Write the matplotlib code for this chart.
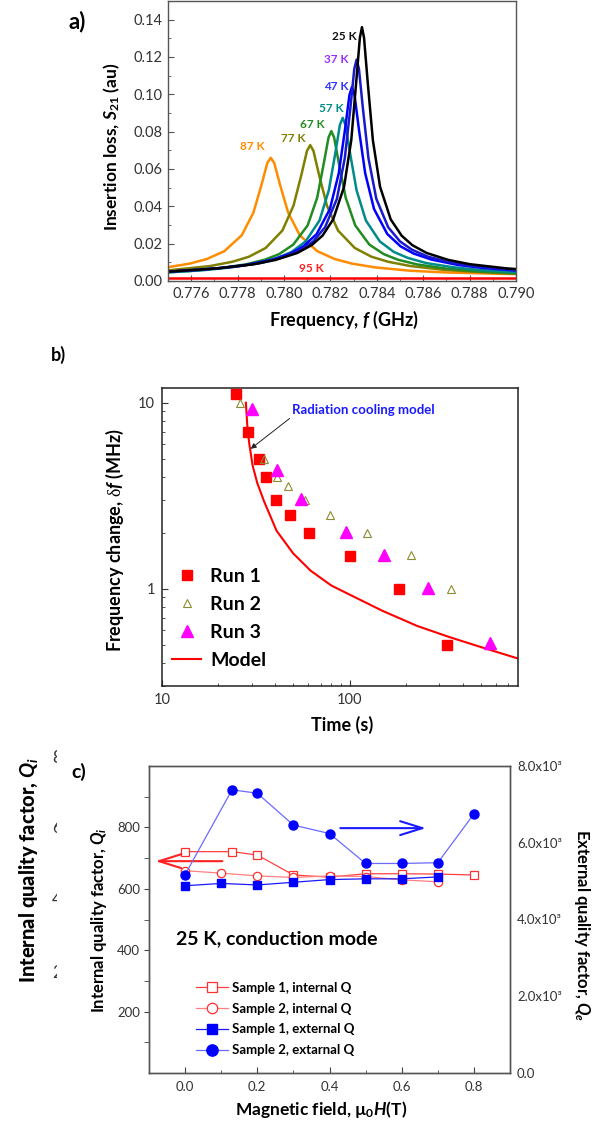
import matplotlib
matplotlib.use('Agg')
import matplotlib.pyplot as plt
from matplotlib.ticker import FixedLocator, NullFormatter, FixedFormatter
from matplotlib.transforms import Bbox, TransformedBbox

plt.rcParams['font.family'] = ['Lato', 'DejaVu Sans']
plt.rcParams['mathtext.fontset'] = 'custom'
plt.rcParams['mathtext.rm'] = 'Lato:bold'
plt.rcParams['mathtext.it'] = 'Lato:bold:italic'
plt.rcParams['mathtext.bf'] = 'Lato:bold'
plt.rcParams['mathtext.sf'] = 'Liberation Serif'

# ---------------- Panel a data: S21 traces ----------------
temps_a = ['25 K', '37 K', '47 K', '57 K', '67 K', '77 K', '87 K', '95 K']

f_25K = [0.775, 0.77716, 0.77871, 0.77964, 0.78057, 0.78119, 0.78166, 0.78212, 0.78259, 0.78290,
         0.78311, 0.78327, 0.78336, 0.78345, 0.78361, 0.78383, 0.78414, 0.78460, 0.78507, 0.78553,
         0.78615, 0.78708, 0.78801, 0.78956, 0.790]
s_25K = [0.0050, 0.0068, 0.0090, 0.0113, 0.0150, 0.0192, 0.0243, 0.0330, 0.0505, 0.0755,
         0.1062, 0.1303, 0.1360, 0.1303, 0.1062, 0.0755, 0.0505, 0.0330, 0.0243, 0.0192,
         0.0150, 0.0113, 0.0090, 0.0068, 0.0064]

f_37K = [0.775, 0.77633, 0.77803, 0.77905, 0.78007, 0.78075, 0.78126, 0.78177, 0.78228, 0.78262,
         0.78286, 0.78303, 0.78313, 0.78323, 0.78340, 0.78364, 0.78398, 0.78449, 0.78500, 0.78551,
         0.78619, 0.78721, 0.78823, 0.790]
s_37K = [0.0050, 0.0059, 0.0079, 0.0098, 0.0131, 0.0168, 0.0212, 0.0288, 0.0440, 0.0658,
         0.0926, 0.1136, 0.1186, 0.1136, 0.0926, 0.0658, 0.0440, 0.0288, 0.0212, 0.0168,
         0.0131, 0.0098, 0.0079, 0.0059]

f_47K = [0.775, 0.77723, 0.77837, 0.77951, 0.78027, 0.78084, 0.78141, 0.78198, 0.78236, 0.78263,
         0.78282, 0.78293, 0.78304, 0.78323, 0.78350, 0.78388, 0.78445, 0.78502, 0.78559, 0.78635,
         0.78749, 0.78863, 0.790]
s_47K = [0.0050, 0.0069, 0.0086, 0.0115, 0.0147, 0.0186, 0.0252, 0.0386, 0.0577, 0.0812,
         0.0996, 0.1040, 0.0996, 0.0812, 0.0577, 0.0386, 0.0252, 0.0186, 0.0147, 0.0115,
         0.0086, 0.0069, 0.0056]

f_57K = [0.775, 0.77653, 0.77773, 0.77893, 0.77973, 0.78033, 0.78093, 0.78153, 0.78193, 0.78221,
         0.78241, 0.78253, 0.78265, 0.78285, 0.78313, 0.78353, 0.78413, 0.78473, 0.78533, 0.78613,
         0.78733, 0.78853, 0.790]
s_57K = [0.0046, 0.0058, 0.0073, 0.0096, 0.0124, 0.0156, 0.0212, 0.0324, 0.0485, 0.0683,
         0.0837, 0.0874, 0.0837, 0.0683, 0.0485, 0.0324, 0.0212, 0.0156, 0.0124, 0.0096,
         0.0073, 0.0058, 0.0047]

f_67K = [0.775, 0.77589, 0.77712, 0.77835, 0.77917, 0.77979, 0.78040, 0.78102, 0.78143, 0.78171,
         0.78192, 0.78204, 0.78216, 0.78237, 0.78266, 0.78307, 0.78368, 0.78430, 0.78491, 0.78573,
         0.78696, 0.78819, 0.790]
s_67K = [0.0047, 0.0053, 0.0067, 0.0089, 0.0114, 0.0144, 0.0195, 0.0298, 0.0446, 0.0627,
         0.0769, 0.0803, 0.0769, 0.0627, 0.0446, 0.0298, 0.0195, 0.0144, 0.0114, 0.0089,
         0.0067, 0.0053, 0.0041]

f_77K = [0.775, 0.77681, 0.77777, 0.77849, 0.77921, 0.77993, 0.78041, 0.78075, 0.78099, 0.78113,
         0.78127, 0.78151, 0.78185, 0.78233, 0.78305, 0.78377, 0.78449, 0.78545, 0.78689, 0.78833,
         0.790]
s_77K = [0.0057, 0.0080, 0.0103, 0.0130, 0.0177, 0.0270, 0.0404, 0.0569, 0.0697, 0.0728,
         0.0697, 0.0569, 0.0404, 0.0270, 0.0177, 0.0130, 0.0103, 0.0080, 0.0060, 0.0048,
         0.0039]

f_87K = [0.775, 0.77593, 0.77668, 0.77743, 0.77818, 0.77868, 0.77903, 0.77928, 0.77943, 0.77958,
         0.77983, 0.78018, 0.78068, 0.78143, 0.78218, 0.78293, 0.78393, 0.78543, 0.78693, 0.78943,
         0.790]
s_87K = [0.0074, 0.0093, 0.0118, 0.0160, 0.0245, 0.0366, 0.0515, 0.0632, 0.0660, 0.0632,
         0.0515, 0.0366, 0.0245, 0.0160, 0.0118, 0.0093, 0.0073, 0.0055, 0.0046, 0.0038,
         0.0037]

f_95K = [0.775, 0.790]
s_95K = [0.0015, 0.0015]

# label anchor positions (frequency, S21) for temperature labels
label_f = [0.7826, 0.78227, 0.78227, 0.78204, 0.78124, 0.78042, 0.77863, 0.7812]
label_s = [0.131, 0.1186, 0.104, 0.0924, 0.0838, 0.0763, 0.0722, 0.0066]

# ---------------- Panel b data ----------------
run1_t = [24.7, 28.8, 32.8, 35.7, 40.6, 47.9, 60.6, 100, 184, 331]
run1_df = [11.2, 7.0, 5.0, 4.0, 3.0, 2.5, 2.0, 1.5, 1.0, 0.5]
run2_t = [25.9, 34.8, 40.8, 46.8, 57.8, 78.6, 124, 212, 346, 555]
run2_df = [10.0, 5.0, 4.0, 3.55, 3.0, 2.5, 2.0, 1.52, 1.0, 0.5]
run3_t = [30.0, 40.8, 55.2, 96, 153, 262, 562]
run3_df = [9.2, 4.33, 3.03, 2.02, 1.52, 1.01, 0.51]
model_t = [28.0, 28.5, 29.2, 30.4, 32.2, 35.0, 40.8, 50, 62, 80, 100, 150, 230, 340, 520, 800]
model_df = [10.0, 7.5, 6.0, 4.6, 3.7, 2.95, 2.05, 1.55, 1.25, 1.04, 0.93, 0.76, 0.63, 0.55, 0.48, 0.42]

# ---------------- Panel c data ----------------
field_s1i = [0.0, 0.13, 0.2, 0.3, 0.4, 0.5, 0.6, 0.7, 0.8]
qi_s1 = [721, 721, 710, 645, 638, 649, 649, 648, 645]
field_s2i = [0.0, 0.1, 0.2, 0.3, 0.4, 0.5, 0.6, 0.7]
qi_s2 = [659, 651, 642, 637, 642, 640, 629, 623]
field_s1e = [0.0, 0.1, 0.2, 0.3, 0.4, 0.5, 0.6, 0.7]
qe_s1 = [4880, 4940, 4900, 4970, 5040, 5060, 5060, 5110]
field_s2e = [0.0, 0.13, 0.2, 0.3, 0.4, 0.5, 0.6, 0.7, 0.8]
qe_s2 = [5170, 7380, 7290, 6460, 6240, 5460, 5460, 5480, 6750]

# ---------------- figure ----------------
W, H = 601, 1124
fig = plt.figure(figsize=(W / 100, H / 100), dpi=100)


def fx(x):
    return x / W


def fy(y):
    return 1 - y / H


def rect(l, t, r, b):
    return [l / W, 1 - b / H, (r - l) / W, (b - t) / H]


TICKC = '#333333'

# ================= Panel a =================
axa = fig.add_axes(rect(168, 1, 516, 281))
curves = [(f_95K, s_95K, '#ff0000'), (f_87K, s_87K, '#ff8c00'), (f_77K, s_77K, '#808000'),
          (f_67K, s_67K, '#228b22'), (f_57K, s_57K, '#008b8b'), (f_47K, s_47K, '#0000ff'),
          (f_37K, s_37K, '#1a1acd'), (f_25K, s_25K, '#000000')]
for fr, s, c in curves:
    axa.plot(fr, s, color=c, lw=1.8, solid_joinstyle='round')
lab_colors = ['#111111', '#9933ff', '#3333ff', '#008b8b', '#228b22', '#808000', '#ff8c00', '#ff2020']
for t, x, y, c in zip(temps_a, label_f, label_s, lab_colors):
    axa.text(x, y, t, color=c, fontsize=8.5, fontweight='bold', ha='center', va='center')
axa.set_xlim(0.775, 0.790)
axa.set_ylim(0, 0.15)
axa.xaxis.set_major_locator(FixedLocator([0.776, 0.778, 0.780, 0.782, 0.784, 0.786, 0.788, 0.790]))
axa.xaxis.set_major_formatter(FixedFormatter(['0.776', '0.778', '0.780', '0.782', '0.784', '0.786', '0.788', '0.790']))
axa.xaxis.set_minor_locator(FixedLocator([0.775, 0.777, 0.779, 0.781, 0.783, 0.785, 0.787, 0.789]))
axa.yaxis.set_major_locator(FixedLocator([0.0, 0.02, 0.04, 0.06, 0.08, 0.10, 0.12, 0.14]))
axa.yaxis.set_major_formatter(FixedFormatter(['0.00', '0.02', '0.04', '0.06', '0.08', '0.10', '0.12', '0.14']))
axa.yaxis.set_minor_locator(FixedLocator([0.01, 0.03, 0.05, 0.07, 0.09, 0.11, 0.13]))
axa.tick_params(which='both', direction='in', top=False, right=False, labelsize=10.5,
                labelcolor=TICKC, color='#555555', pad=4)
axa.tick_params(which='major', length=4)
axa.tick_params(which='minor', length=2.5)
for sp in axa.spines.values():
    sp.set_color('#555555')
    sp.set_linewidth(1.0)
fig.text(fx(112), fy(147), r'Insertion loss, $S_{\mathit{21}}$ (au)', rotation=90,
         ha='center', va='center', fontsize=12.5, fontweight='bold')
fig.text(fx(344), fy(320), r'Frequency, $f$ (GHz)', ha='center', va='center',
         fontsize=13, fontweight='bold')
fig.text(fx(77), fy(22), 'a)', ha='center', va='center', fontsize=16, fontweight='bold')

# ================= Panel b =================
axb = fig.add_axes(rect(162, 388, 518, 686))
axb.set_xscale('log')
axb.set_yscale('log')
axb.plot(model_t, model_df, color='#ff0000', lw=1.5, label='Model', zorder=2)
axb.plot(run1_t, run1_df, ls='none', marker='s', ms=6.5, color='#ff0000', mec='#ff0000',
         label='Run 1', zorder=3)
axb.plot(run2_t, run2_df, ls='none', marker='^', ms=5.5, mfc='none', mec='#8c8c30', mew=0.8,
         label='Run 2', zorder=3)
axb.plot(run3_t, run3_df, ls='none', marker='^', ms=8.5, color='#ff00ff', mec='#ff00ff',
         label='Run 3', zorder=4)
axb.set_xlim(10, 790)
axb.set_ylim(0.3, 12)
axb.xaxis.set_major_locator(FixedLocator([10, 100]))
axb.xaxis.set_major_formatter(FixedFormatter(['10', '100']))
axb.xaxis.set_minor_locator(FixedLocator([20, 30, 40, 50, 60, 70, 80, 90, 200, 300, 400, 500, 600, 700]))
axb.xaxis.set_minor_formatter(NullFormatter())
axb.yaxis.set_major_locator(FixedLocator([1, 10]))
axb.yaxis.set_major_formatter(FixedFormatter(['1', '10']))
axb.yaxis.set_minor_locator(FixedLocator([0.3, 0.4, 0.5, 0.6, 0.7, 0.8, 0.9, 2, 3, 4, 5, 6, 7, 8, 9]))
axb.yaxis.set_minor_formatter(NullFormatter())
axb.tick_params(which='both', direction='in', top=False, right=False, labelsize=10.5,
                labelcolor=TICKC, color='#333333', pad=5)
axb.tick_params(which='major', length=4)
axb.tick_params(which='minor', length=2.5)
for sp in axb.spines.values():
    sp.set_color('#222222')
    sp.set_linewidth(1.1)
axb.annotate('Radiation cooling model', xy=(29.7, 5.65), xytext=(49.5, 9.1),
             color='#1a1aff', fontsize=9.5, fontweight='bold', ha='left', va='center',
             arrowprops=dict(arrowstyle='-|>', color='#222222', lw=0.7, mutation_scale=8,
                             relpos=(0.0, 0.0), shrinkA=0, shrinkB=0))
hb, lb = axb.get_legend_handles_labels()
order = [1, 2, 3, 0]
axb.legend([hb[i] for i in order], [lb[i] for i in order], loc='upper left',
           bbox_to_anchor=(fx(172), fy(568)), bbox_transform=fig.transFigure,
           frameon=False, prop={'weight': 'bold', 'size': 14}, handlelength=1.5,
           handletextpad=0.45, labelspacing=0.57, borderpad=0, borderaxespad=0)
fig.text(fx(115), fy(540), r'Frequency change, $\mathsf{\delta}f$ (MHz)', rotation=90,
         ha='center', va='center', fontsize=13, fontweight='bold')
fig.text(fx(342), fy(725), 'Time (s)', ha='center', va='center', fontsize=13, fontweight='bold')
fig.text(fx(58), fy(355), 'b)', ha='center', va='center', fontsize=13, fontweight='bold')

# ================= Panel c =================
axc = fig.add_axes(rect(149, 766, 510, 1073))
axc2 = axc.twinx()
l1, = axc.plot(field_s1i, qi_s1, color='#ff4040', lw=0.9, marker='s', ms=5.5, mfc='white',
               mec='#ff3030', mew=0.9, label='Sample 1, internal Q')
l2, = axc.plot(field_s2i, qi_s2, color='#ff8080', lw=0.9, marker='o', ms=6, mfc='white',
               mec='#ff3030', mew=0.9, label='Sample 2, internal Q')
l3, = axc2.plot(field_s1e, qe_s1, color='#1a1aff', lw=0.9, marker='s', ms=5.5, mfc='#0000ff',
                mec='#0000ff', label='Sample 1, external Q')
l4, = axc2.plot(field_s2e, qe_s2, color='#6a6aff', lw=0.9, marker='o', ms=6.5, mfc='#0000ff',
                mec='#0000ff', label='Sample 2, extarnal Q')
axc.set_xlim(-0.1, 0.9)
axc.set_ylim(0, 1000)
axc2.set_ylim(0, 8000)
axc.xaxis.set_major_locator(FixedLocator([0.0, 0.2, 0.4, 0.6, 0.8]))
axc.xaxis.set_major_formatter(FixedFormatter(['0.0', '0.2', '0.4', '0.6', '0.8']))
axc.xaxis.set_minor_locator(FixedLocator([0.1, 0.3, 0.5, 0.7]))
axc.yaxis.set_major_locator(FixedLocator([200, 400, 600, 800]))
axc.yaxis.set_major_formatter(FixedFormatter(['200', '400', '600', '800']))
axc.yaxis.set_minor_locator(FixedLocator([100, 300, 500, 700, 900]))
axc.tick_params(axis='x', which='both', direction='in', top=False, labelsize=9.5,
                labelcolor=TICKC, color='#444444', pad=6)
axc.tick_params(axis='x', which='major', length=4)
axc.tick_params(axis='x', which='minor', length=2.5)
axc.tick_params(axis='y', which='both', direction='out', length=3.5, labelsize=9.5,
                labelcolor=TICKC, color='#444444', pad=3)
axc2.yaxis.set_major_locator(FixedLocator([0, 2000, 4000, 6000, 8000]))
axc2.yaxis.set_major_formatter(FixedFormatter(['0.0', '2.0x10³', '4.0x10³', '6.0x10³', '8.0x10³']))
axc2.tick_params(axis='y', length=0, labelsize=9.5, labelcolor=TICKC, pad=5)
for a in (axc, axc2):
    for sp in a.spines.values():
        sp.set_color('#555555')
        sp.set_linewidth(1.0)
axc.annotate('', xy=(-0.082, 690), xytext=(0.103, 690),
             arrowprops=dict(arrowstyle='->,head_length=1.6,head_width=0.5', color='#ff2020',
                             lw=1.5, mutation_scale=10, shrinkA=0, shrinkB=0))
axc2.annotate('', xy=(0.667, 6381), xytext=(0.43, 6381),
              arrowprops=dict(arrowstyle='->,head_length=1.6,head_width=0.5', color='#1a1aff',
                              lw=1.5, mutation_scale=10, shrinkA=0, shrinkB=0))
fig.text(fx(176), fy(939), '25 K, conduction mode', ha='left', va='center', fontsize=14,
         fontweight='bold')
axc2.legend([l1, l2, l3, l4], [l1.get_label(), l2.get_label(), l3.get_label(), l4.get_label()],
            loc='upper left', bbox_to_anchor=(fx(196), fy(982)), bbox_transform=fig.transFigure,
            frameon=False, prop={'weight': 'bold', 'size': 9.5}, handlelength=2.4,
            handletextpad=0.3, labelspacing=0.66, borderpad=0, borderaxespad=0, markerscale=1.25)
fig.text(fx(99), fy(920), r'Internal quality factor, $Q_{i}$', rotation=90, ha='center',
         va='center', fontsize=12, fontweight='bold')
fig.text(fx(582), fy(925), r'External quality factor, $Q_{e}$', rotation=270, ha='center',
         va='center', fontsize=12, fontweight='bold')
fig.text(fx(321), fy(1110), r'Magnetic field, µ$_0$$H$(T)', ha='center', va='center',
         fontsize=12.5, fontweight='bold')
fig.text(fx(79), fy(772), 'c)', ha='center', va='center', fontsize=14, fontweight='bold')

# cropped duplicate label at far left (as in the reference image)
fig.text(fx(29), fy(870), r'Internal quality factor, $Q_{i}$', rotation=90, ha='center',
         va='center', fontsize=14.5, fontweight='black')
clipbox = TransformedBbox(Bbox([[0, 0], [fx(57), 1]]), fig.transFigure)
for d, yy in zip(['8', '6', '4', '2'], [758, 828, 900, 973]):
    t = fig.text(fx(52), fy(yy), d, ha='left', va='center', fontsize=12, color=TICKC)
    t.set_clip_box(clipbox)
    t.set_clip_on(True)

fig.savefig('out.png', dpi=100)
